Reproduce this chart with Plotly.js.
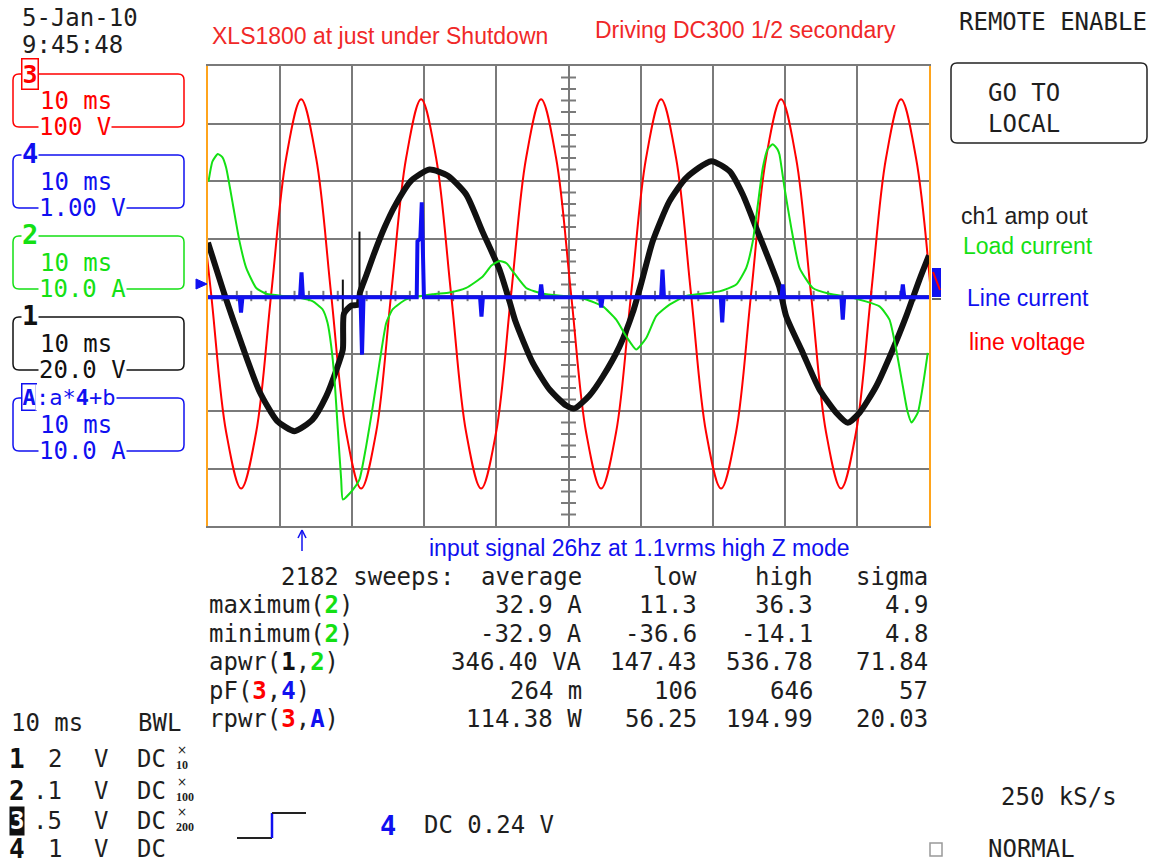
<!DOCTYPE html>
<html>
<head>
<meta charset="utf-8">
<script src="https://cdn.plot.ly/plotly-3.0.1.min.js"></script>
<style>
html,body{margin:0;padding:0;background:#fff;}
#chart{width:1149px;height:865px;}
</style>
</head>
<body>
<div id="chart"></div>
<script>
// ---------------- DATA (read from the reference screen) ----------------
// time axis in ms (10 ms/div, 10 divisions)
// Channel 3 : line voltage (V), 100 V/div
const redT = [-1.64,0.44,2.52,4.60,6.68,8.76,10.84,12.92,15.00,17.08,19.16,21.24,23.32,25.40,27.48,29.56,31.64,33.72,35.80,37.88,39.96,42.04,44.12,46.20,48.28,50.36,52.44,54.52,56.60,58.68,60.76,62.84,64.92,67.00,69.08,71.16,73.24,75.32,77.40,79.48,81.56,83.64,85.72,87.80,89.88,91.96,94.04,96.12,98.20,100.28];
const redV = [240,3,-237,-335,-237,3,240,342,240,3,-237,-335,-237,3,240,342,240,3,-237,-335,-237,3,240,342,240,3,-237,-335,-237,3,240,342,240,3,-237,-335,-237,3,240,342,240,3,-237,-335,-237,3,240,342,240,3];

// Channel 1 : amp out (V), 20 V/div
const blackT = [0.00,2.36,4.79,7.14,9.57,12.00,14.49,16.39,17.78,18.70,18.86,19.90,20.87,21.08,21.94,23.09,24.48,25.87,28.22,30.72,33.22,35.81,38.07,40.43,41.82,42.65,45.01,47.36,49.68,50.83,52.91,54.76,57.07,58.92,60.12,61.69,64.01,66.32,69.79,72.33,74.17,76.03,77.88,79.26,80.19,82.50,84.81,87.13,88.74,90.36,92.68,94.98,96.84,98.68,100.0];
const blackV = [18.6,0,-17.6,-33.2,-43.4,-47.0,-43.0,-34.9,-25.9,-18.6,-6.1,-3.3,-3.0,1.2,7.1,15.1,23.8,31.1,40.2,44.0,41.9,35.3,22.4,9.2,-1.9,-8.9,-23.1,-32.5,-38.1,-39.1,-34.6,-28.0,-17.6,-5.7,4.7,19.1,33.0,41.1,46.9,43.4,35.3,23.7,12.1,2.9,-7.0,-19.8,-32.5,-40.6,-44.1,-40.6,-31.4,-18.6,-7.0,5.7,14.1];
const blackSpikeT = [18.70,18.70,null,21.01,21.01];
const blackSpikeV = [5.7,-7.1,null,22.4,-1.2];

// Channel 2 : load current (A), 10 A/div
const greenT = [0.07,0.62,1.36,2.01,2.52,3.44,4.37,5.30,6.69,8.07,12.69,14.49,15.88,16.57,17.09,17.55,18.00,18.47,18.70,20.08,21.01,21.94,22.86,23.79,24.72,25.63,27.49,31.14,33.50,35.81,38.11,39.32,40.43,41.40,42.27,44.13,46.44,50.14,52.46,54.76,56.62,58.00,59.39,60.78,62.16,64.01,66.32,70.94,73.26,74.65,75.56,76.26,76.95,77.60,78.34,78.99,79.26,79.96,80.89,82.04,83.88,86.19,89.43,93.13,94.52,95.45,96.37,97.02,97.57,98.45,99.14,99.83];
const greenA = [19.9,23.4,24.7,24.1,22.3,16.0,9.5,4.9,1.4,0.4,-0.3,-0.9,-2.3,-4.6,-8.7,-14.5,-23.2,-31.9,-35.4,-33.7,-31.9,-26.1,-19.2,-11.6,-4.7,-2.3,-0.6,0.3,0.6,1.4,3.4,5.3,6.1,5.7,4.3,1.4,0.4,-0.1,-0.6,-1.8,-4.1,-7.0,-9.3,-7.3,-3.5,-1.5,0.0,0.8,2.0,4.9,9.5,15.9,22.3,25.5,26.4,25.5,24.6,18.8,11.9,4.9,1.4,0.4,-0.3,-1.8,-4.1,-9.3,-15.7,-20.1,-22.0,-20.3,-15.7,-9.9];

// Math A : line current (A), 10 A/div
const blueT = [0,4.38,4.58,4.78,12.77,12.97,13.17,21.15,21.36,21.57,28.95,29.05,29.45,29.65,29.95,37.73,37.93,38.13,46.01,46.21,46.41,54.34,54.54,54.74,62.84,63.04,63.24,71.12,71.32,71.52,79.52,79.72,79.92,87.84,88.04,88.24,96.17,96.37,96.57,100];
const blueA = [-0.2,-0.2,-2.9,-0.2,-0.2,4.1,-0.2,-0.2,-10.2,-0.2,-0.2,9.5,10.0,16.3,-0.2,-0.2,-3.6,-0.2,-0.2,2.0,-0.2,-0.2,-2.0,-0.2,-0.2,4.6,-0.2,-0.2,-4.6,-0.2,-0.2,2.0,-0.2,-0.2,-4.1,-0.2,-0.2,2.0,-0.2,-0.2];

// channel descriptor boxes (left panel)
const chanIds = ['3','4','2','1','A'];
const chanTimebase = ['10 ms','10 ms','10 ms','10 ms','10 ms'];
const chanScale = ['100 V','1.00 V','10.0 A','20.0 V','10.0 A'];

// statistics table
const statHeader = ['2182 sweeps:','average','low','high','sigma'];
const statLabels = ['maximum(2)','minimum(2)','apwr(1,2)','pF(3,4)','rpwr(3,A)'];
const statAvg = ['32.9 A','-32.9 A','346.40 VA','264 m','114.38 W'];
const statLow = ['11.3','-36.6','147.43','106','56.25'];
const statHigh = ['36.3','-14.1','536.78','646','194.99'];
const statSigma = ['4.9','4.8','71.84','57','20.03'];

// probe / coupling list (bottom left)
const probeCh = ['1','2','3','4'];
const probeVdiv = ['2','.1','.5','1'];
const probeUnit = ['V','V','V','V'];
const probeCoupling = ['DC','DC','DC','DC'];
const probeAtten = ['10','100','200',''];

// other texts
const titleLeft = 'XLS1800 at just under Shutdown';
const titleRight = 'Driving DC300 1/2 secondary';
const legendTexts = ['ch1 amp out','Load current','Line current','line voltage'];
const noteText = 'input signal 26hz at 1.1vrms high Z mode';

// ---------------- STYLE ----------------
const MONO = 'DejaVu Sans Mono', SANS = 'Liberation Sans';
const RED = '#ff0000', GRN = '#14e014', BLU = '#1010f0', BLK = '#111111', TXT = '#1e1e1e';
const GRID = '#7a7a7a', ORANGE = '#ffa41c';
const chanColors = {'1':BLK,'2':GRN,'3':RED,'4':BLU,'A':BLU};

// plot area in page pixels
const L = 208, T = 66, W = 721, H = 460;
const px = x => (x - L) / W;
const py = y => (T + H - y) / H;

function txt(s, x, y, o) {
  o = o || {};
  const font = Object.assign({family: MONO, size: 24, color: TXT}, o.font || {});
  const a = Object.assign({text: s, x: px(x), y: py(y), xref: 'paper', yref: 'paper',
    showarrow: false, xanchor: 'left', yanchor: 'middle', borderpad: 0}, o);
  a.font = font;
  return a;
}
function rrect(x0, y0, x1, y1, r, color, w) {
  const X = px, Y = py;
  const d = `M${X(x0 + r)},${Y(y0)} L${X(x1 - r)},${Y(y0)} Q${X(x1)},${Y(y0)} ${X(x1)},${Y(y0 + r)} ` +
            `L${X(x1)},${Y(y1 - r)} Q${X(x1)},${Y(y1)} ${X(x1 - r)},${Y(y1)} ` +
            `L${X(x0 + r)},${Y(y1)} Q${X(x0)},${Y(y1)} ${X(x0)},${Y(y1 - r)} ` +
            `L${X(x0)},${Y(y0 + r)} Q${X(x0)},${Y(y0)} ${X(x0 + r)},${Y(y0)} Z`;
  return {type: 'path', path: d, xref: 'paper', yref: 'paper', line: {color: color, width: w || 1.5}, layer: 'above'};
}
function seg(x0, y0, x1, y1, color, w) {
  return {type: 'line', xref: 'paper', yref: 'paper', x0: px(x0), y0: py(y0), x1: px(x1), y1: py(y1),
    line: {color: color, width: w || 2}, layer: 'above'};
}
function colorize(label) {
  const i = label.indexOf('(');
  const head = label.slice(0, i + 1), body = label.slice(i + 1, -1);
  const parts = body.split(',').map(c => `<span style="color:${chanColors[c]}"><b>${c}</b></span>`);
  return head + parts.join(',') + ')';
}

// ---------------- TRACES ----------------
const traces = [
  {x: blackT, y: blackV, yaxis: 'y2', mode: 'lines', line: {color: BLK, width: 6, shape: 'spline', smoothing: 0.6}, name: 'ch1 amp out'},
  {x: blackSpikeT, y: blackSpikeV, yaxis: 'y2', mode: 'lines', line: {color: BLK, width: 2}, name: 'ch1 glitch'},
  {x: greenT, y: greenA, yaxis: 'y3', mode: 'lines', line: {color: GRN, width: 2, shape: 'spline', smoothing: 0.5}, name: 'Load current'},
  {x: redT, y: redV, yaxis: 'y', mode: 'lines', line: {color: RED, width: 2, shape: 'spline', smoothing: 1}, name: 'line voltage'},
  {x: blueT, y: blueA, yaxis: 'y4', mode: 'lines', line: {color: BLU, width: 4}, name: 'Line current'}
];

// ---------------- SHAPES ----------------
const shapes = [];
// crosshair minor ticks (1/5 division)
for (let t = 2; t < 100; t += 2) {
  if (t % 10 === 0) continue;
  shapes.push({type: 'line', xref: 'x', yref: 'y', x0: t, x1: t, y0: -9, y1: 9, line: {color: GRID, width: 2}, layer: 'below'});
}
for (let v = -380; v < 400; v += 20) {
  if (v % 100 === 0) continue;
  shapes.push({type: 'line', xref: 'x', yref: 'y', x0: 48.96, x1: 51.04, y0: v, y1: v, line: {color: GRID, width: 2}, layer: 'below'});
}
// channel boxes
const boxTops = [74, 155, 236, 317, 398];
chanIds.forEach((c, i) => shapes.push(rrect(13, boxTops[i], 184, boxTops[i] + 53, 6, chanColors[c], 1.5)));
// GO TO LOCAL box
shapes.push(rrect(951, 63, 1147, 143, 6, '#222', 1.5));
// ground marker for channel A
shapes.push({type: 'path', xref: 'paper', yref: 'paper', path: `M${px(196)},${py(279)} L${px(207)},${py(284)} L${px(196)},${py(289)} Z`, fillcolor: BLU, line: {color: BLU, width: 1}});
// trigger arrow
shapes.push(seg(302, 551, 302, 531, BLU, 1.5));
shapes.push(seg(298, 538, 302, 530, BLU, 1.5));
shapes.push(seg(306, 538, 302, 530, BLU, 1.5));
// trigger slope symbol
shapes.push(seg(237, 838, 272, 838, '#222', 2));
shapes.push(seg(272, 838, 272, 813, BLU, 2.5));
shapes.push(seg(272, 813, 306, 813, '#222', 2));
// NORMAL square
shapes.push({type: 'rect', xref: 'paper', yref: 'paper', x0: px(930), x1: px(942), y0: py(856), y1: py(843), line: {color: '#999', width: 1.5}});
// right-edge trace markers
shapes.push({type: 'rect', xref: 'paper', yref: 'paper', x0: px(932), x1: px(941), y0: py(297), y1: py(268), fillcolor: BLU, line: {width: 0}});
shapes.push(seg(933, 272, 940, 290, RED, 2));
shapes.push(seg(932, 299, 941, 299, '#666', 2));

// ---------------- ANNOTATIONS ----------------
const ann = [];
ann.push(txt('5-Jan-10', 21, 18));
ann.push(txt('9:45:48', 21, 45));
ann.push(txt(titleLeft, 211, 36, {font: {family: SANS, size: 23, color: '#f02828'}}));
ann.push(txt(titleRight, 594, 30, {font: {family: SANS, size: 23, color: '#f02828'}}));
ann.push(txt('REMOTE ENABLE', 958, 22));
ann.push(txt('GO TO', 987, 93));
ann.push(txt('LOCAL', 987, 124));
const legY = [216, 246, 298, 342], legX = [960, 962, 966, 968], legC = [TXT, GRN, BLU, RED];
legendTexts.forEach((s, i) => ann.push(txt(s, legX[i], legY[i], {font: {family: SANS, size: 23, color: legC[i]}})));
ann.push(txt(noteText, 428, 548, {font: {family: SANS, size: 23, color: BLU}}));

// channel boxes text
chanIds.forEach((c, i) => {
  const col = chanColors[c], top = boxTops[i];
  if (c === '3') {
    ann.push(txt('<b>3</b>', 21, top, {font: {size: 25, color: col}, bgcolor: '#fff', bordercolor: col, borderwidth: 1.5, borderpad: 0}));
  } else if (c === 'A') {
    ann.push(txt('<b>A</b>', 21, top - 1, {font: {size: 22, color: col}, bgcolor: '#fff', bordercolor: col, borderwidth: 1.5, borderpad: 0}));
    ann.push(txt(':a*<b>4</b>+b', 35, top - 1, {font: {size: 22, color: col}, bgcolor: '#fff'}));
  } else {
    ann.push(txt('<b>' + c + '</b>', 21, top - 2, {font: {size: 27, color: col}, bgcolor: '#fff'}));
  }
  ann.push(txt(chanTimebase[i], 39, top + 27, {font: {color: col}}));
  ann.push(txt(chanScale[i], 38, top + 53, {font: {color: col}, bgcolor: '#fff'}));
});

// statistics table (monospace columns)
const pitch = 14.42, colEnd = [26, 34, 42, 50];
const rowY = [577, 605, 634, 662, 691, 719];
ann.push(txt(statHeader[0], L + 5 * pitch, rowY[0]));
statHeader.slice(1).forEach((s, j) => ann.push(txt(s, L + colEnd[j] * pitch, rowY[0], {xanchor: 'right'})));
statLabels.forEach((lab, i) => {
  const y = rowY[i + 1];
  ann.push(txt(colorize(lab), L, y));
  [statAvg, statLow, statHigh, statSigma].forEach((arr, j) =>
    ann.push(txt(arr[i], L + colEnd[j] * pitch, y, {xanchor: 'right'})));
});

// bottom-left probe list
ann.push(txt('10 ms', 10, 723));
ann.push(txt('BWL', 137, 723));
const probeY = [759, 791, 821, 849];
probeCh.forEach((c, i) => {
  const y = probeY[i];
  if (c === '3') {
    ann.push(txt('<b>3</b>', 9, y, {font: {size: 24, color: '#fff'}, bgcolor: '#111', borderpad: 0}));
  } else {
    ann.push(txt('<b>' + c + '</b>', 8, y, {font: {size: 26, color: '#111'}}));
  }
  ann.push(txt(probeVdiv[i], 63, y, {xanchor: 'right'}));
  ann.push(txt(probeUnit[i], 93, y));
  ann.push(txt(probeCoupling[i], 136, y));
  if (probeAtten[i]) {
    ann.push(txt('×', 176, y - 9, {font: {family: 'DejaVu Sans', size: 12}}));
    ann.push(txt('<b>' + probeAtten[i] + '</b>', 175, y + 6, {font: {family: 'Liberation Serif', size: 12}}));
  }
});
ann.push(txt('<b>4</b>', 379, 825, {font: {size: 27, color: BLU}}));
ann.push(txt('DC 0.24 V', 423, 825));
ann.push(txt('250 kS/s', 1000, 797));
ann.push(txt('NORMAL', 987, 849));

// ---------------- LAYOUT ----------------
const layout = {
  width: 1149, height: 865,
  margin: {l: L, r: 1149 - L - W, t: T, b: 865 - T - H, pad: 0},
  paper_bgcolor: '#fff', plot_bgcolor: '#fff',
  showlegend: false,
  font: {family: MONO, size: 24, color: TXT},
  xaxis: {range: [0, 100], dtick: 10, tick0: 0, showgrid: true, gridcolor: GRID, gridwidth: 2,
          zeroline: false, showticklabels: false, ticks: '', showline: true, linecolor: GRID, linewidth: 2, mirror: true, fixedrange: true},
  yaxis: {range: [-400, 400], dtick: 100, tick0: 0, showgrid: true, gridcolor: GRID, gridwidth: 2,
          zeroline: false, showticklabels: false, ticks: '', showline: true, linecolor: ORANGE, linewidth: 2, mirror: true, fixedrange: true},
  yaxis2: {range: [-80, 80], overlaying: 'y', visible: false, fixedrange: true},
  yaxis3: {range: [-40, 40], overlaying: 'y', visible: false, fixedrange: true},
  yaxis4: {range: [-40, 40], overlaying: 'y', visible: false, fixedrange: true},
  shapes: shapes,
  annotations: ann
};

Plotly.newPlot('chart', traces, layout, {displayModeBar: false, staticPlot: true});
</script>
</body>
</html>
